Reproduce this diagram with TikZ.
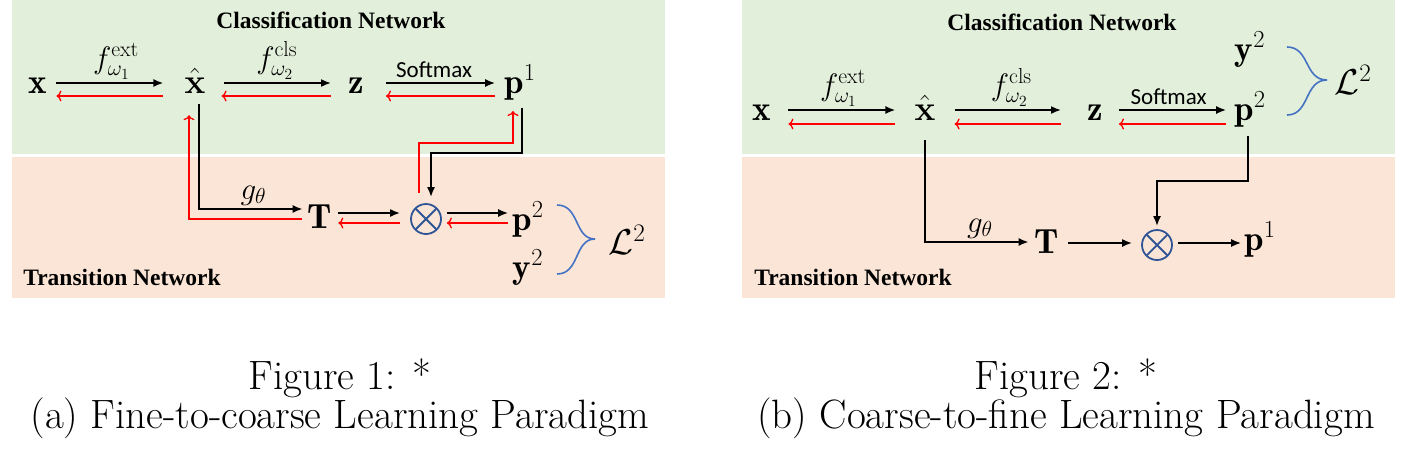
\RequirePackage{fix-cm}
\documentclass[tikz,border=0pt]{standalone}
\usepackage{fontspec}
\usepackage{bm}
\usetikzlibrary{arrows.meta}
\newfontfamily\nettitlefont{Liberation Serif}[BoldFont={Liberation Serif Bold}]
\newfontfamily\opfont{Carlito}
\definecolor{bggreen}{HTML}{E2EFDA}
\definecolor{bgpeach}{HTML}{FBE5D6}
\definecolor{lossblue}{HTML}{4472C4}
\definecolor{opblue}{HTML}{2F5597}
\begin{document}
\begin{tikzpicture}[x=1pt,y=-1pt,
  var/.style={inner sep=0pt, anchor=base, font=\fontsize{35}{40}\selectfont},
  lbl/.style={inner sep=3pt, font=\fontsize{31}{34}\selectfont},
  loss/.style={inner sep=0pt, font=\fontsize{36}{40}\selectfont},
  nettitle/.style={inner sep=0pt, font=\nettitlefont\bfseries\fontsize{23.5}{26}\selectfont},
  opname/.style={inner sep=4pt, font=\opfont\fontsize{23}{26}\selectfont},
  fwd/.style={-{Latex[length=10pt,width=8pt]}, line width=1.8pt},
  bwd/.style={-{To[length=5pt,width=11pt]}, red, line width=1.3pt},
  brace/.style={lossblue, line width=1.6pt},
  otimes/.style={circle, draw=opblue, line width=1.8pt, minimum size=30pt, inner sep=0pt,
    path picture={\draw[opblue, line width=1.8pt]
      (path picture bounding box.north west) -- (path picture bounding box.south east)
      (path picture bounding box.north east) -- (path picture bounding box.south west);}},
  capt/.style={inner sep=0pt, anchor=base, font=\fontsize{41}{48}\selectfont}]
\useasboundingbox (0,0) rectangle (1410,451);

% panel (a)
\fill[bggreen] (12,0) rectangle (665,154);
\fill[bgpeach] (12,157) rectangle (665,298);
\node[nettitle] (clsA) at (331,20) {Classification Network};
\node[nettitle] (trnA) at (122,277) {Transition Network};

\node[var] (xA) at (38,93) {$\mathbf{x}$};
\node[var] (xhA) at (195,93) {$\bm{\hat{\mathbf{x}}}$};
\node[var] (zA) at (356,93) {$\mathbf{z}$};
\node[var] (pA) at (520,93) {$\mathbf{p}^1$};
\node[var] (TA) at (320,228) {$\mathbf{T}$};
\node[otimes] (oA) at (426,219) {};
\node[var] (qA) at (528,230) {$\mathbf{p}^2$};
\node[var] (yA) at (528,278) {$\mathbf{y}^2$};
\node[loss] (lA) at (627,240) {$\mathcal{L}^2$};

\draw[fwd, shorten <=9pt, shorten >=21pt] ([yshift=10pt]xA.base east) -- node[lbl, above] {$f^{\mathrm{ext}}_{\omega_1}$} ([yshift=10pt]xhA.base west);
\draw[bwd, shorten <=21pt, shorten >=9pt] ([yshift=-3pt]xhA.base west) -- ([yshift=-3pt]xA.base east);
\draw[fwd, shorten <=18pt, shorten >=17pt] ([yshift=10pt]xhA.base east) -- node[lbl, above] {$f^{\mathrm{cls}}_{\omega_2}$} ([yshift=10pt]zA.base west);
\draw[bwd, shorten <=17pt, shorten >=16pt] ([yshift=-3pt]zA.base west) -- ([yshift=-3pt]xhA.base east);
\draw[fwd, shorten <=22pt, shorten >=9pt] ([yshift=10pt]zA.base east) -- node[opname, above] {Softmax} ([yshift=10pt]pA.base west);
\draw[bwd, shorten <=9pt, shorten >=22pt] ([yshift=-3pt]pA.base west) -- ([yshift=-3pt]zA.base east);

\draw[fwd, shorten <=11pt, shorten >=5pt] ([xshift=4pt]xhA.south) |- node[lbl, pos=.75, above] {$g_\theta$} ([yshift=19pt]TA.base west);
\draw[bwd, shorten <=6pt, shorten >=22pt] ([yshift=9pt]TA.base west) -| ([xshift=-6pt]xhA.south);
\draw[fwd, shorten <=6pt, shorten >=10pt] ([yshift=15pt]TA.base east) -- ([yshift=6pt]oA.west);
\draw[bwd, shorten <=10pt, shorten >=6pt] ([yshift=-4pt]oA.west) -- ([yshift=5pt]TA.base east);
\draw[fwd, shorten <=5pt, shorten >=4pt] ([yshift=6pt]oA.east) -- ([yshift=17pt]qA.base west);
\draw[bwd, shorten <=4pt, shorten >=5pt] ([yshift=7pt]qA.base west) -- ([yshift=-4pt]oA.east);
\draw[fwd, shorten <=8pt, shorten >=6pt] ([xshift=2pt]pA.south) -- ++(0,53) -| ([xshift=5pt]oA.north);
\draw[bwd, shorten <=10pt, shorten >=11pt] ([xshift=-7pt]oA.north) -- ++(0,-60) -| ([xshift=-7pt]pA.south);

\draw[brace] (557,205) .. controls (580,205) and (574,239) .. (595,239);
\draw[brace] (557,274) .. controls (580,274) and (574,239) .. (595,239);

% panel (b)
\fill[bggreen] (742,0) rectangle (1395,154);
\fill[bgpeach] (742,157) rectangle (1395,298);
\node[nettitle] (clsB) at (1062,22) {Classification Network};
\node[nettitle] (trnB) at (853,277) {Transition Network};

\node[var] (xB) at (762,120) {$\mathbf{x}$};
\node[var] (xhB) at (925,120) {$\bm{\hat{\mathbf{x}}}$};
\node[var] (zB) at (1095,120) {$\mathbf{z}$};
\node[var] (pB) at (1250,120) {$\mathbf{p}^2$};
\node[var] (yB) at (1250,60) {$\mathbf{y}^2$};
\node[var] (TB) at (1047,253) {$\mathbf{T}$};
\node[otimes] (oB) at (1157,245) {};
\node[var] (qB) at (1260,250) {$\mathbf{p}^1$};
\node[loss] (lB) at (1353,80) {$\mathcal{L}^2$};

\draw[fwd, shorten <=17pt, shorten >=19pt] ([yshift=10pt]xB.base east) -- node[lbl, above] {$f^{\mathrm{ext}}_{\omega_1}$} ([yshift=10pt]xhB.base west);
\draw[bwd, shorten <=19pt, shorten >=17pt] ([yshift=-4pt]xhB.base west) -- ([yshift=-4pt]xB.base east);
\draw[fwd, shorten <=19pt, shorten >=26pt] ([yshift=10pt]xhB.base east) -- node[lbl, above] {$f^{\mathrm{cls}}_{\omega_2}$} ([yshift=10pt]zB.base west);
\draw[bwd, shorten <=26pt, shorten >=19pt] ([yshift=-4pt]zB.base west) -- ([yshift=-4pt]xhB.base east);
\draw[fwd, shorten <=16pt, shorten >=8pt] ([yshift=10pt]zB.base east) -- node[opname, above] {Softmax} ([yshift=10pt]pB.base west);
\draw[bwd, shorten <=8pt, shorten >=16pt] ([yshift=-4pt]pB.base west) -- ([yshift=-4pt]zB.base east);

\draw[fwd, shorten <=20pt, shorten >=6pt] (xhB.south) |- node[lbl, pos=.75, above] {$g_\theta$} ([yshift=11pt]TB.base west);
\draw[fwd, shorten <=9pt, shorten >=9pt] ([yshift=10pt]TB.base east) -- ([yshift=2pt]oB.west);
\draw[fwd, shorten <=5pt, shorten >=3pt] ([yshift=2pt]oB.east) -- ([yshift=7pt]qB.base west);
\draw[fwd, shorten <=9pt, shorten >=3pt] ([xshift=-2pt]pB.south) -- ++(0,54) -| (oB.north);

\draw[brace] (1287,47) .. controls (1310,47) and (1304,80) .. (1327,80);
\draw[brace] (1287,115) .. controls (1310,115) and (1304,80) .. (1327,80);

% captions
\node[capt] (capA1) at (340,389) {Figure 1: *};
\node[capt] (capA2) at (340,428) {(a) Fine-to-coarse Learning Paradigm};
\node[capt] (capB1) at (1066,389) {Figure 2: *};
\node[capt] (capB2) at (1066,428) {(b) Coarse-to-fine Learning Paradigm};
\end{tikzpicture}
\end{document}
